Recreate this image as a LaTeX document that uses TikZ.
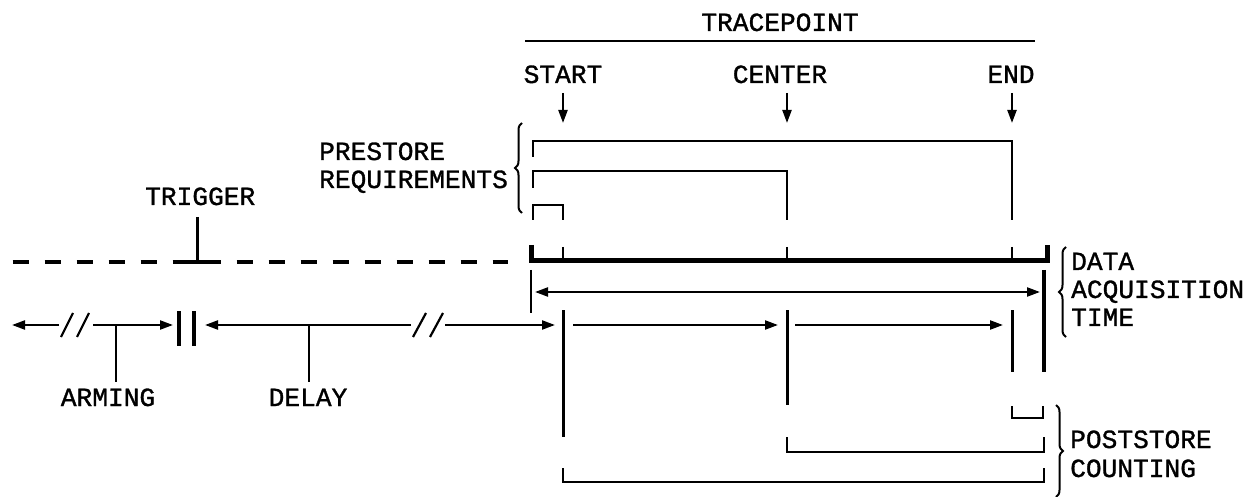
\documentclass[tikz,border=0pt]{standalone}
\usepackage{fontspec}
\newfontfamily\plotfont[FakeBold=1.2]{Liberation Mono}
\usetikzlibrary{arrows.meta,decorations.pathreplacing}
\begin{document}
\begin{tikzpicture}[x=1pt,y=-1pt,
  lbl/.style={font=\plotfont\fontsize{26.2}{29}\selectfont, inner sep=0pt},
  thin/.style={line width=2.2pt},
  tick/.style={line width=3pt},
  tip/.tip={Triangle[length=13pt,width=9pt]},
  arr/.style={line width=2.2pt, -tip},
  darr/.style={line width=2.2pt, tip-tip},
  brk/.style={line width=2.2pt},
  bracebox/.style={line width=2pt, decorate, decoration={brace, amplitude=7pt}}]
\useasboundingbox (0,0) rectangle (1251,497);
% ---------- labels ----------
\node[lbl, anchor=base] (trace) at (780,31) {TRACEPOINT};
\node[lbl, anchor=base] (start) at (563,83) {START};
\node[lbl, anchor=base] (center) at (780,83) {CENTER};
\node[lbl, anchor=base] (end) at (1011,83) {END};
\node[lbl, anchor=base west] (pre1) at (319,160) {PRESTORE};
\node[lbl, anchor=base west] (pre2) at (319,188) {REQUIREMENTS};
\node[lbl, anchor=base west] (trig) at (145,205) {TRIGGER};
\node[lbl, anchor=base west] (data1) at (1071,270) {DATA};
\node[lbl, anchor=base west] (data2) at (1071,298) {ACQUISITION};
\node[lbl, anchor=base west] (data3) at (1071,326) {TIME};
\node[lbl, anchor=base] (arming) at (108,406) {ARMING};
\node[lbl, anchor=base] (delay) at (308,406) {DELAY};
\node[lbl, anchor=base west] (post1) at (1070,448) {POSTSTORE};
\node[lbl, anchor=base west] (post2) at (1070,477) {COUNTING};
% ---------- tracepoint ----------
\draw[thin] (525,41) -- (1035,41);
\coordinate (sA) at (563,93);  \coordinate (sB) at (563,123);
\coordinate (cA) at (787,93);  \coordinate (cB) at (787,123);
\coordinate (eA) at (1012,93); \coordinate (eB) at (1012,123);
\draw[arr] (sA) -- (sB);
\draw[arr] (cA) -- (cB);
\draw[arr] (eA) -- (eB);
% ---------- prestore brackets ----------
\draw[thin] (533,157) -- (533,141) -- (1012,141) -- (1012,220);
\draw[thin] (533,188) -- (533,171) -- (787,171) -- (787,220);
\draw[thin] (533,220) -- (533,205) -- (563,205) -- (563,220);
\draw[bracebox] (522,213) -- (522,123);
% ---------- trigger / dashed line ----------
\draw[line width=3.5pt, dash pattern=on 16pt off 16pt] (12.5,262) -- (508,262);
\draw[line width=3.5pt] (173,262) -- (220,262);
\draw[line width=3pt] (197,217) -- (197,262);
% ---------- acquisition baseline ----------
\draw[line width=5pt, line join=miter] (531,245) -- (531,261) -- (1047,261) -- (1047,245);
\draw[thin] (563,247) -- (563,261);
\draw[thin] (787,247) -- (787,261);
\draw[thin] (1012,247) -- (1012,261);
% ---------- data acquisition time ----------
\draw[line width=2.5pt] (531,270) -- (531,313);
\draw[line width=3.5pt] (1044,270) -- (1044,372);
\draw[darr] (535,292) -- (1040,292);
\draw[bracebox] (1066,337) -- (1066,247);
% ---------- arming / delay ----------
\draw[arr] (59,325) -- (12,325);
\draw[arr] (93,325) -- (173,325);
\draw[brk] (61,337) -- (73,313);
\draw[brk] (77,337) -- (89,313);
\draw[line width=4pt] (179,311) -- (179,346);
\draw[line width=4pt] (194,311) -- (194,346);
\draw[arr] (411,325) -- (205,325);
\draw[arr] (445,325) -- (555,325);
\draw[brk] (413,337) -- (426,313);
\draw[brk] (430,337) -- (443,313);
\draw[thin] (116,325) -- (116,382);
\draw[thin] (309,325) -- (309,382);
% ---------- start/center/end ticks ----------
\draw[tick] (563,310) -- (563,437);
\draw[tick] (787,310) -- (787,405);
\draw[tick] (1012,310) -- (1012,372);
\draw[arr] (573,325) -- (778,325);
\draw[arr] (795,325) -- (1003,325);
% ---------- poststore brackets ----------
\draw[thin] (1012,406) -- (1012,418) -- (1043,418) -- (1043,406);
\draw[thin] (787,437) -- (787,452) -- (1044,452) -- (1044,437);
\draw[thin] (563,468) -- (563,482) -- (1044,482) -- (1044,468);
\draw[bracebox] (1056,405) -- (1056,497);
\end{tikzpicture}
\end{document}
